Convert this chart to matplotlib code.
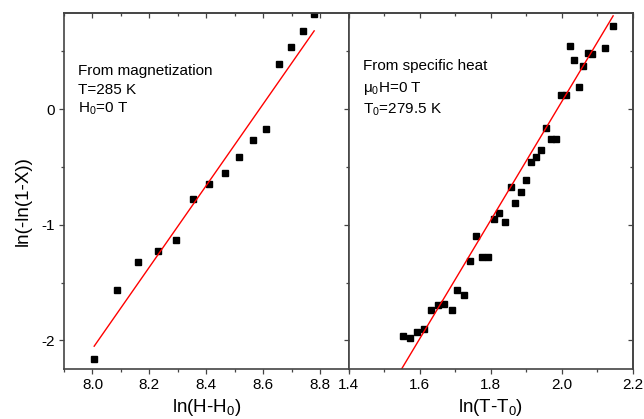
import matplotlib
matplotlib.use('Agg')
import matplotlib.pyplot as plt
from matplotlib.ticker import MultipleLocator

plt.rcParams['font.family'] = ['Liberation Sans', 'DejaVu Sans']
plt.rcParams['mathtext.fontset'] = 'custom'
plt.rcParams['mathtext.rm'] = 'Liberation Sans'
plt.rcParams['mathtext.it'] = 'Liberation Sans'

# left panel: from magnetization
mag_x = [8.006, 8.086, 8.160, 8.230, 8.294, 8.354, 8.411, 8.465,
         8.515, 8.564, 8.611, 8.657, 8.698, 8.739, 8.779]
mag_y = [-2.16, -1.56, -1.32, -1.23, -1.134, -0.78, -0.644, -0.551,
         -0.416, -0.268, -0.167, 0.395, 0.54, 0.678, 0.822]
mag_fit_x = [8.006, 8.779]
mag_fit_y = [-2.05, 0.678]
mag_notes = ['From magnetization', 'T=285 K', 'H$_0$=0 T']

# right panel: from specific heat
heat_x = [1.552, 1.574, 1.594, 1.613, 1.633, 1.651, 1.670, 1.690, 1.706,
          1.724, 1.741, 1.759, 1.776, 1.793, 1.809, 1.824, 1.840, 1.856,
          1.870, 1.885, 1.899, 1.914, 1.929, 1.943, 1.957, 1.971, 1.985,
          1.997, 2.012, 2.023, 2.036, 2.048, 2.061, 2.073, 2.086, 2.121, 2.145]
heat_y = [-1.962, -1.977, -1.931, -1.899, -1.734, -1.694, -1.682, -1.740,
          -1.564, -1.605, -1.313, -1.097, -1.276, -1.276, -0.950, -0.898,
          -0.975, -0.672, -0.814, -0.713, -0.612, -0.459, -0.413, -0.349,
          -0.162, -0.260, -0.257, 0.121, 0.121, 0.545, 0.430, 0.190, 0.375,
          0.491, 0.479, 0.531, 0.719]
heat_fit_x = [1.5485, 2.145]
heat_fit_y = [-2.251, 0.808]
heat_notes = ['From specific heat', 'μ$_0$H=0 T', 'T$_0$=279.5 K']

fig = plt.figure(figsize=(6.44, 4.19), dpi=100)
ax1 = fig.add_axes([0.0994, 0.1186, 0.4419, 0.8496])
ax2 = fig.add_axes([0.5413, 0.1186, 0.4411, 0.8496], sharey=ax1)

spine_col = '#444444'
for ax in (ax1, ax2):
    for s in ax.spines.values():
        s.set_color(spine_col)
        s.set_linewidth(1.2)
    ax.set_ylim(-2.25, 0.83)
    ax.yaxis.set_major_locator(MultipleLocator(1))
    ax.yaxis.set_minor_locator(MultipleLocator(0.5))
    ax.xaxis.set_major_locator(MultipleLocator(0.2))
    ax.xaxis.set_minor_locator(MultipleLocator(0.1))
    ax.tick_params(axis='both', which='major', length=3.5, width=0.9,
                   color=spine_col, labelsize=11, pad=3, direction='out')
    ax.tick_params(axis='both', which='minor', length=2, width=0.9,
                   color=spine_col, direction='out')
    # top axis: ticks pointing inward, no labels
    top = ax.secondary_xaxis('top')
    top.xaxis.set_major_locator(MultipleLocator(0.2))
    top.xaxis.set_minor_locator(MultipleLocator(0.1))
    top.tick_params(which='major', direction='in', length=3.5, width=0.9,
                    color=spine_col, labeltop=False)
    top.tick_params(which='minor', direction='in', length=2, width=0.9,
                    color=spine_col)
    top.spines['top'].set_color(spine_col)
    top.spines['top'].set_linewidth(1.2)

ax1.plot(mag_x, mag_y, 's', color='black', ms=5)
ax1.plot(mag_fit_x, mag_fit_y, '-', color='red', lw=1)
ax1.set_xlim(7.9, 8.9)
ax1.set_xticks([8.0, 8.2, 8.4, 8.6, 8.8])
ax1.set_xticklabels(['8.0', '8.2', '8.4', '8.6', '8.8'])
ax1.set_yticks([-2, -1, 0])
ax1.set_yticklabels(['-2', '-1', '0'])
ax1.set_xlabel(r'ln(H-H$_0$)', fontsize=13.5, labelpad=3)
ax1.set_ylabel('ln(-ln(1-X))', fontsize=13.5)
ax1.yaxis.set_label_coords(-0.115, 0.473)
for yy, note in zip([0.8267, 0.7733, 0.72], mag_notes):
    ax1.text(0.049, yy, note, transform=ax1.transAxes, fontsize=11,
             va='baseline', ha='left')

ax2.plot(heat_x, heat_y, 's', color='black', ms=5)
ax2.plot(heat_fit_x, heat_fit_y, '-', color='red', lw=1)
ax2.set_xlim(1.4, 2.2)
ax2.set_xticks([1.4, 1.6, 1.8, 2.0, 2.2])
ax2.set_xticklabels(['1.4', '1.6', '1.8', '2.0', '2.2'])
ax2.tick_params(axis='y', which='both', labelleft=False)
# right axis: ticks pointing inward
rgt = ax2.secondary_yaxis('right')
rgt.yaxis.set_major_locator(MultipleLocator(1))
rgt.yaxis.set_minor_locator(MultipleLocator(0.5))
rgt.tick_params(which='major', direction='in', length=3.5, width=0.9,
                color=spine_col, labelright=False)
rgt.tick_params(which='minor', direction='in', length=2, width=0.9,
                color=spine_col)
rgt.spines['right'].set_color(spine_col)
rgt.spines['right'].set_linewidth(1.2)
ax2.set_xlabel(r'ln(T-T$_0$)', fontsize=13.5, labelpad=3)
for yy, note in zip([0.8407, 0.7798, 0.7171], heat_notes):
    ax2.text(0.05, yy, note, transform=ax2.transAxes, fontsize=11,
             va='baseline', ha='left')

plt.savefig('out.png', dpi=100)
plt.close()
